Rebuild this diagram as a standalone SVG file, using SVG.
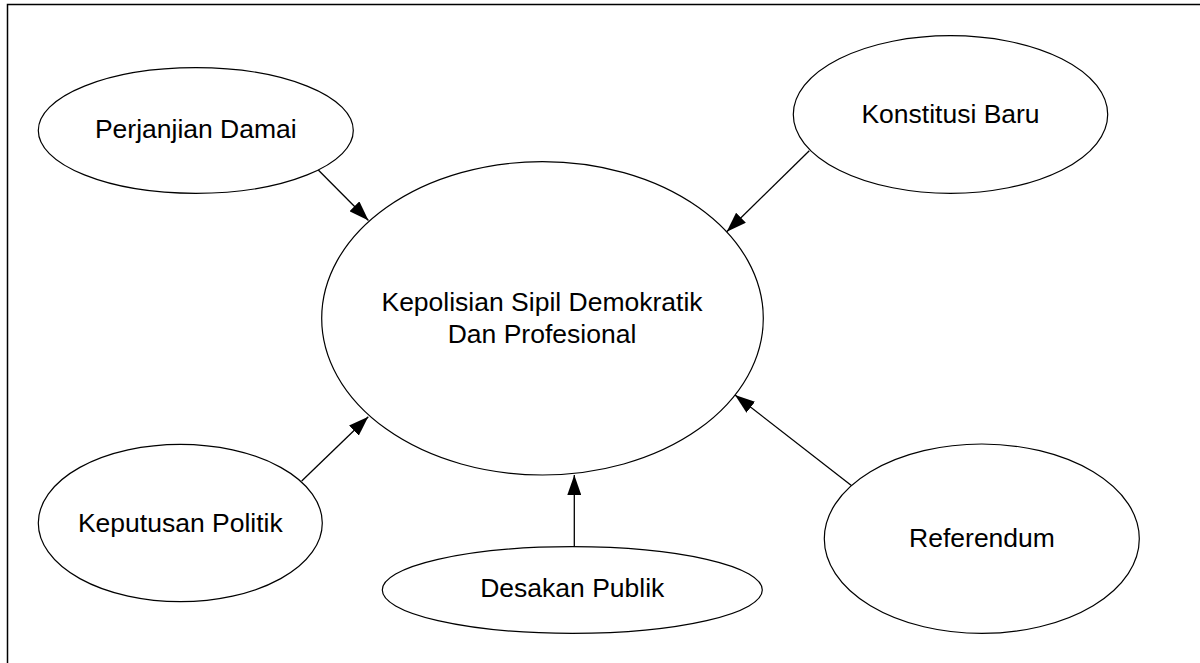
<svg xmlns="http://www.w3.org/2000/svg" width="1200" height="663" viewBox="0 0 1200 663">
<style>
.node ellipse{fill:#fff;stroke:#000;stroke-width:1.2}
.node text{font-family:"Liberation Sans",Arial,sans-serif;font-size:26.5px;fill:#000;text-anchor:middle}
.edge{stroke:#000;stroke-width:1.3;fill:none;marker-end:url(#ah)}
</style>
<defs>
<marker id="ah" markerUnits="userSpaceOnUse" markerWidth="20" markerHeight="14" refX="20" refY="7" orient="auto" viewBox="0 0 20 14">
<path d="M0,0 L20,7 L0,14 Z" fill="#000"/>
</marker>
</defs>
<rect width="1200" height="663" fill="#fff"/>
<path d="M7.5,663 V4.5 H1200" fill="none" stroke="#000" stroke-width="1.5"/>
<g id="connectors">
<line class="edge" x1="318.3" y1="170" x2="368.5" y2="220.5"/>
<line class="edge" x1="809.3" y1="150.7" x2="726.7" y2="231.7"/>
<line class="edge" x1="301.7" y1="481" x2="368.3" y2="416.7"/>
<line class="edge" x1="574.3" y1="546.7" x2="574.3" y2="475"/>
<line class="edge" x1="851.7" y1="485.7" x2="735" y2="395"/>
</g>
<g id="central" class="node">
<ellipse cx="542.5" cy="318.3" rx="220.8" ry="156.7"/>
<text x="542" y="311">Kepolisian Sipil Demokratik</text>
<text x="542" y="342.7">Dan Profesional</text>
</g>
<g id="perjanjian" class="node">
<ellipse cx="195.8" cy="130.5" rx="157.5" ry="62.8"/>
<text x="195.8" y="137.7">Perjanjian Damai</text>
</g>
<g id="konstitusi" class="node">
<ellipse cx="950.5" cy="114.5" rx="157.2" ry="78.8"/>
<text x="950.5" y="123.3">Konstitusi Baru</text>
</g>
<g id="keputusan" class="node">
<ellipse cx="180.3" cy="523" rx="142" ry="78.7"/>
<text x="180.3" y="531.7">Keputusan Politik</text>
</g>
<g id="desakan" class="node">
<ellipse cx="572.3" cy="590" rx="190" ry="43.3"/>
<text x="572.3" y="596.7">Desakan Publik</text>
</g>
<g id="referendum" class="node">
<ellipse cx="981.8" cy="538.7" rx="157.5" ry="94.7"/>
<text x="982" y="546.7">Referendum</text>
</g>
</svg>
